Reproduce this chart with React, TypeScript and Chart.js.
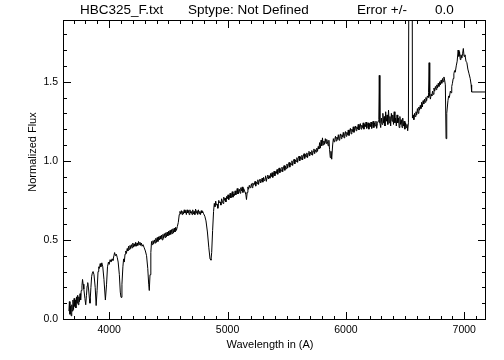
import React, { useEffect, useRef } from 'react';
import { Chart, registerables } from 'chart.js';

Chart.register(...registerables);

// ---- data (wavelength in Angstrom, normalized flux) ----
const spectrum: [number, number][] = [
  [3660, 0.05], [3664, 0.11], [3669, 0.03], [3674, 0.08], [3679, 0.02], [3684, 0.09],
  [3689, 0.05], [3694, 0.12], [3699, 0.06], [3704, 0.13], [3709, 0.08], [3714, 0.12],
  [3719, 0.07], [3724, 0.14], [3729, 0.10], [3734, 0.15], [3739, 0.09], [3744, 0.14],
  [3749, 0.11], [3754, 0.16], [3759, 0.12], [3764, 0.18], [3770, 0.21], [3775, 0.25],
  [3780, 0.22], [3786, 0.19], [3795, 0.13], [3802, 0.09], [3808, 0.15], [3814, 0.21],
  [3819, 0.23], [3826, 0.19], [3833, 0.13], [3838, 0.10], [3846, 0.20], [3852, 0.27],
  [3858, 0.29], [3864, 0.30], [3872, 0.28], [3882, 0.20], [3890, 0.085], [3898, 0.18],
  [3906, 0.30], [3912, 0.33], [3918, 0.32], [3924, 0.35], [3930, 0.33], [3938, 0.355],
  [3946, 0.33], [3956, 0.25], [3968, 0.12], [3978, 0.22], [3986, 0.33], [3994, 0.36],
  [4000, 0.345], [4008, 0.375], [4016, 0.36], [4024, 0.38], [4032, 0.37], [4040, 0.40],
  [4046, 0.42], [4052, 0.40], [4060, 0.41], [4068, 0.39], [4076, 0.36], [4086, 0.28],
  [4094, 0.17], [4100, 0.137], [4108, 0.22], [4116, 0.33], [4122, 0.38], [4128, 0.36],
  [4134, 0.41], [4140, 0.43], [4146, 0.415], [4152, 0.445], [4158, 0.43], [4164, 0.46],
  [4170, 0.44], [4176, 0.465], [4182, 0.445], [4188, 0.47], [4194, 0.45], [4200, 0.48],
  [4206, 0.455], [4212, 0.475], [4218, 0.46], [4224, 0.485], [4230, 0.46], [4236, 0.48],
  [4242, 0.465], [4248, 0.49], [4254, 0.47], [4260, 0.485], [4266, 0.465], [4272, 0.48],
  [4278, 0.46], [4286, 0.47], [4296, 0.45], [4306, 0.43], [4316, 0.40], [4326, 0.32],
  [4334, 0.22], [4339, 0.18], [4345, 0.28], [4352, 0.42], [4358, 0.49], [4364, 0.47],
  [4370, 0.495], [4376, 0.475], [4382, 0.50], [4388, 0.48], [4394, 0.51], [4400, 0.485],
  [4406, 0.515], [4412, 0.49], [4418, 0.52], [4424, 0.50], [4430, 0.525], [4436, 0.505],
  [4442, 0.53], [4448, 0.50], [4454, 0.535], [4460, 0.51], [4466, 0.54], [4472, 0.515],
  [4478, 0.545], [4484, 0.52], [4490, 0.55], [4496, 0.525], [4502, 0.555], [4508, 0.53],
  [4514, 0.56], [4520, 0.535], [4526, 0.565], [4532, 0.54], [4538, 0.57], [4544, 0.545],
  [4550, 0.575], [4556, 0.55], [4562, 0.58], [4568, 0.56], [4576, 0.585], [4584, 0.61],
  [4592, 0.66], [4598, 0.68], [4604, 0.665], [4610, 0.685], [4616, 0.66], [4622, 0.68],
  [4628, 0.665], [4634, 0.69], [4640, 0.67], [4646, 0.685], [4652, 0.66], [4658, 0.69],
  [4664, 0.67], [4670, 0.685], [4676, 0.66], [4682, 0.69], [4688, 0.67], [4694, 0.68],
  [4700, 0.66], [4706, 0.69], [4712, 0.665], [4718, 0.68], [4724, 0.66], [4730, 0.695],
  [4736, 0.67], [4742, 0.685], [4748, 0.66], [4754, 0.69], [4760, 0.665], [4766, 0.68],
  [4772, 0.66], [4778, 0.685], [4784, 0.67], [4790, 0.68], [4798, 0.665], [4808, 0.65],
  [4818, 0.62], [4830, 0.55], [4842, 0.45], [4852, 0.38], [4860, 0.372], [4866, 0.42],
  [4874, 0.56], [4882, 0.68], [4888, 0.73], [4894, 0.71], [4900, 0.745], [4906, 0.72],
  [4912, 0.725], [4918, 0.70], [4926, 0.75], [4932, 0.735], [4938, 0.74], [4944, 0.72],
  [4950, 0.76], [4956, 0.745], [4962, 0.73], [4968, 0.77], [4974, 0.75], [4980, 0.765],
  [4986, 0.74], [4992, 0.775], [4998, 0.76], [5004, 0.785], [5010, 0.755], [5016, 0.77],
  [5022, 0.795], [5028, 0.765], [5034, 0.78], [5040, 0.805], [5046, 0.77], [5052, 0.79],
  [5058, 0.78], [5064, 0.81], [5070, 0.785], [5076, 0.80], [5082, 0.825], [5088, 0.79],
  [5094, 0.805], [5100, 0.82], [5106, 0.795], [5112, 0.83], [5118, 0.81], [5124, 0.835],
  [5130, 0.80], [5136, 0.825], [5142, 0.815], [5148, 0.80], [5154, 0.79], [5160, 0.755],
  [5166, 0.80], [5172, 0.835], [5178, 0.82], [5184, 0.845], [5190, 0.83], [5196, 0.835],
  [5202, 0.855], [5208, 0.83], [5214, 0.86], [5220, 0.845], [5226, 0.85], [5232, 0.87],
  [5238, 0.84], [5244, 0.865], [5250, 0.855], [5256, 0.88], [5262, 0.85], [5268, 0.875],
  [5274, 0.885], [5280, 0.86], [5286, 0.87], [5292, 0.89], [5298, 0.865], [5304, 0.895],
  [5310, 0.875], [5316, 0.88], [5322, 0.905], [5328, 0.87], [5334, 0.895], [5340, 0.91],
  [5346, 0.885], [5352, 0.905], [5358, 0.89], [5364, 0.92], [5370, 0.90], [5376, 0.925],
  [5382, 0.895], [5388, 0.915], [5394, 0.935], [5400, 0.905], [5406, 0.93], [5412, 0.92],
  [5418, 0.945], [5424, 0.915], [5430, 0.94], [5436, 0.955], [5442, 0.925], [5448, 0.945],
  [5454, 0.935], [5460, 0.96], [5466, 0.93], [5472, 0.955], [5478, 0.97], [5484, 0.94],
  [5490, 0.965], [5496, 0.95], [5502, 0.98], [5508, 0.955], [5514, 0.975], [5520, 0.99],
  [5526, 0.96], [5532, 0.985], [5538, 0.975], [5544, 1.00], [5550, 0.97], [5556, 0.995],
  [5562, 1.01], [5568, 0.98], [5574, 1.005], [5580, 0.995], [5586, 1.02], [5592, 0.99],
  [5598, 1.015], [5604, 1.03], [5610, 1.00], [5616, 1.025], [5622, 1.01], [5628, 1.035],
  [5634, 1.005], [5640, 1.03], [5646, 1.045], [5652, 1.015], [5658, 1.04], [5664, 1.025],
  [5670, 1.05], [5676, 1.02], [5682, 1.045], [5688, 1.06], [5694, 1.03], [5700, 1.055],
  [5706, 1.04], [5712, 1.065], [5718, 1.035], [5724, 1.06], [5730, 1.075], [5736, 1.045],
  [5742, 1.07], [5748, 1.055], [5754, 1.08], [5760, 1.06], [5766, 1.09], [5772, 1.075],
  [5778, 1.115], [5784, 1.08], [5790, 1.13], [5796, 1.095], [5802, 1.145], [5808, 1.10],
  [5814, 1.125], [5820, 1.105], [5826, 1.14], [5832, 1.11], [5838, 1.135], [5844, 1.12],
  [5850, 1.095], [5856, 1.13], [5862, 1.07], [5868, 1.02], [5874, 1.06], [5880, 1.01],
  [5888, 1.10], [5894, 1.14], [5900, 1.12], [5906, 1.135], [5912, 1.155], [5918, 1.125],
  [5924, 1.15], [5930, 1.135], [5936, 1.165], [5942, 1.13], [5948, 1.155], [5954, 1.17],
  [5960, 1.14], [5966, 1.165], [5972, 1.15], [5978, 1.18], [5984, 1.145], [5990, 1.17],
  [5996, 1.185], [6002, 1.155], [6008, 1.18], [6014, 1.165], [6020, 1.195], [6026, 1.16],
  [6032, 1.19], [6038, 1.205], [6044, 1.17], [6050, 1.20], [6056, 1.185], [6062, 1.215],
  [6068, 1.18], [6074, 1.205], [6080, 1.22], [6086, 1.19], [6092, 1.215], [6098, 1.20],
  [6104, 1.23], [6110, 1.195], [6116, 1.22], [6122, 1.235], [6128, 1.20], [6134, 1.225],
  [6140, 1.21], [6146, 1.24], [6152, 1.20], [6158, 1.23], [6164, 1.215], [6170, 1.245],
  [6176, 1.205], [6182, 1.225], [6188, 1.24], [6194, 1.20], [6200, 1.235], [6206, 1.215],
  [6212, 1.245], [6218, 1.205], [6224, 1.23], [6230, 1.25], [6236, 1.21], [6242, 1.24],
  [6248, 1.22], [6254, 1.25], [6260, 1.205], [6266, 1.235], [6272, 1.25], [6278, 1.26],
  [6282, 1.54], [6287, 1.24], [6294, 1.21], [6300, 1.27], [6306, 1.23], [6312, 1.30],
  [6318, 1.24], [6324, 1.28], [6330, 1.22], [6336, 1.31], [6342, 1.25], [6348, 1.29],
  [6354, 1.23], [6360, 1.32], [6366, 1.24], [6372, 1.28], [6378, 1.22], [6384, 1.30],
  [6390, 1.25], [6396, 1.29], [6402, 1.23], [6408, 1.31], [6414, 1.24], [6420, 1.27],
  [6426, 1.22], [6432, 1.29], [6438, 1.24], [6444, 1.27], [6450, 1.21], [6456, 1.28],
  [6462, 1.23], [6468, 1.26], [6474, 1.21], [6480, 1.27], [6486, 1.22], [6492, 1.25],
  [6498, 1.20], [6504, 1.24], [6510, 1.21], [6516, 1.23], [6522, 1.19], [6528, 1.24],
  [6536, 3.2], [6558, 3.2], [6562, 1.27], [6568, 1.29], [6574, 1.26], [6580, 1.30],
  [6586, 1.28], [6592, 1.31], [6598, 1.29], [6604, 1.33], [6610, 1.30], [6616, 1.34],
  [6622, 1.32], [6628, 1.35], [6634, 1.33], [6640, 1.37], [6646, 1.34], [6652, 1.38],
  [6658, 1.36], [6664, 1.39], [6670, 1.37], [6676, 1.40], [6682, 1.38], [6688, 1.41],
  [6694, 1.40], [6698, 1.43], [6703, 1.62], [6708, 1.41], [6714, 1.39], [6720, 1.42],
  [6726, 1.41], [6732, 1.44], [6738, 1.42], [6744, 1.46], [6750, 1.44], [6756, 1.47],
  [6762, 1.45], [6768, 1.48], [6774, 1.46], [6780, 1.49], [6786, 1.47], [6792, 1.50],
  [6798, 1.48], [6804, 1.51], [6810, 1.49], [6816, 1.52], [6822, 1.50], [6828, 1.53],
  [6834, 1.51], [6840, 1.48], [6846, 1.14], [6852, 1.30], [6862, 1.38], [6868, 1.41],
  [6874, 1.40], [6882, 1.44], [6888, 1.43], [6894, 1.47], [6900, 1.49], [6906, 1.52],
  [6912, 1.55], [6918, 1.57], [6924, 1.56], [6932, 1.60], [6940, 1.63], [6948, 1.70],
  [6954, 1.66], [6960, 1.69], [6966, 1.64], [6972, 1.67], [6980, 1.65], [6986, 1.68],
  [6992, 1.71], [6998, 1.66], [7006, 1.67], [7014, 1.63], [7022, 1.62], [7030, 1.58],
  [7040, 1.55], [7050, 1.52], [7058, 1.48], [7062, 1.435], [7175, 1.435],
];

const xRange = [3610, 7175];
const yRange = [0, 1.89];
const xMajorTicks = [4000, 5000, 6000, 7000];
const xMinorTicks = [3700, 3800, 3900, 4100, 4200, 4300, 4400, 4500, 4600, 4700, 4800, 4900,
  5100, 5200, 5300, 5400, 5500, 5600, 5700, 5800, 5900, 6100, 6200, 6300, 6400, 6500,
  6600, 6700, 6800, 6900, 7100];
const yMajorTicks = [0.0, 0.5, 1.0, 1.5];
const yMinorTicks = [0.1, 0.2, 0.3, 0.4, 0.6, 0.7, 0.8, 0.9, 1.1, 1.2, 1.3, 1.4, 1.6, 1.7, 1.8];
const titleParts = ['HBC325_F.txt', 'Sptype: Not Defined', 'Error +/-', '0.0'];
const xTitle = 'Wavelength in (A)';
const yTitle = 'Normalized Flux';

const FONT = "'Liberation Sans', Arial, sans-serif";

const isMajor = (list: number[], v: number) => list.some((m) => Math.abs(m - v) < 1e-6);

const frameAndTextPlugin = {
  id: 'idlFrame',
  afterDraw(chart: any) {
    const { ctx, chartArea } = chart;
    const xs = chart.scales.x;
    const ys = chart.scales.y;
    const L = Math.round(chartArea.left);
    const R = Math.round(chartArea.right);
    const T = Math.round(chartArea.top);
    const B = Math.round(chartArea.bottom);
    ctx.save();
    ctx.fillStyle = '#000';
    // frame
    ctx.fillRect(L, T, R - L + 1, 1);
    ctx.fillRect(L, B, R - L + 1, 1);
    ctx.fillRect(L, T, 1, B - T + 1);
    ctx.fillRect(R, T, 1, B - T + 1);
    // inward ticks on all four sides
    [...xMajorTicks, ...xMinorTicks].forEach((v) => {
      const len = isMajor(xMajorTicks, v) ? 8 : 4;
      const px = Math.round(xs.getPixelForValue(v));
      ctx.fillRect(px, B - len + 1, 1, len);
      ctx.fillRect(px, T, 1, len);
    });
    [...yMajorTicks, ...yMinorTicks].forEach((v) => {
      const len = isMajor(yMajorTicks, v) ? 8 : 4;
      const py = Math.round(ys.getPixelForValue(v));
      ctx.fillRect(L, py, len, 1);
      ctx.fillRect(R - len + 1, py, len, 1);
    });

    ctx.textBaseline = 'middle';
    ctx.textAlign = 'left';
    ctx.font = `13.5px ${FONT}`;
    const titleX = [80, 188, 357, 435];
    titleParts.forEach((t, i) => ctx.fillText(t, titleX[i], 10));

    ctx.font = `11px ${FONT}`;
    ctx.textAlign = 'center';
    ctx.fillText(xTitle, 270, 345);
    ctx.translate(33, 152);
    ctx.rotate(-Math.PI / 2);
    ctx.fillText(yTitle, 0, 0);
    ctx.restore();
  },
};

export default function App() {
  const ref = useRef<HTMLCanvasElement | null>(null);
  useEffect(() => {
    if (!ref.current) return;
    const chart = new Chart(ref.current, {
      type: 'line',
      data: {
        datasets: [
          {
            data: spectrum.map(([x, y]) => ({ x, y })),
            borderColor: '#000',
            borderWidth: 1,
            pointRadius: 0,
            tension: 0,
            fill: false,
          },
        ],
      },
      options: {
        animation: false,
        responsive: false,
        devicePixelRatio: 1,
        layout: { padding: { left: 8, top: 20, right: 19, bottom: 0 } },
        plugins: { legend: { display: false }, tooltip: { enabled: false }, title: { display: false } },
        scales: {
          x: {
            type: 'linear',
            min: xRange[0],
            max: xRange[1],
            grid: { display: false, drawTicks: false },
            border: { display: false },
            afterBuildTicks: (s: any) => {
              s.ticks = [...xMajorTicks, ...xMinorTicks].sort((a, b) => a - b).map((v) => ({ value: v }));
            },
            afterFit: (s: any) => { s.height = 41; },
            ticks: {
              autoSkip: false,
              maxRotation: 0,
              padding: 5,
              color: '#000',
              font: { family: FONT, size: 10.5 },
              callback: (v: any) => (isMajor(xMajorTicks, Number(v)) ? String(v) : ''),
            },
          },
          y: {
            type: 'linear',
            min: yRange[0],
            max: yRange[1],
            grid: { display: false, drawTicks: false },
            border: { display: false },
            afterBuildTicks: (s: any) => {
              s.ticks = [...yMajorTicks, ...yMinorTicks].sort((a, b) => a - b).map((v) => ({ value: v }));
            },
            afterFit: (s: any) => { s.width = 55; },
            ticks: {
              autoSkip: false,
              padding: 5,
              color: '#000',
              font: { family: FONT, size: 10.5 },
              callback: (v: any) => (isMajor(yMajorTicks, Number(v)) ? Number(v).toFixed(1) : ''),
            },
          },
        },
      },
      plugins: [frameAndTextPlugin],
    } as any);
    return () => chart.destroy();
  }, []);
  return (
    <div style={{ position: 'absolute', left: 0, top: 0, width: 504, height: 360, background: '#fff' }}>
      <canvas ref={ref} width={504} height={360} style={{ width: 504, height: 360, display: 'block' }} />
    </div>
  );
}
